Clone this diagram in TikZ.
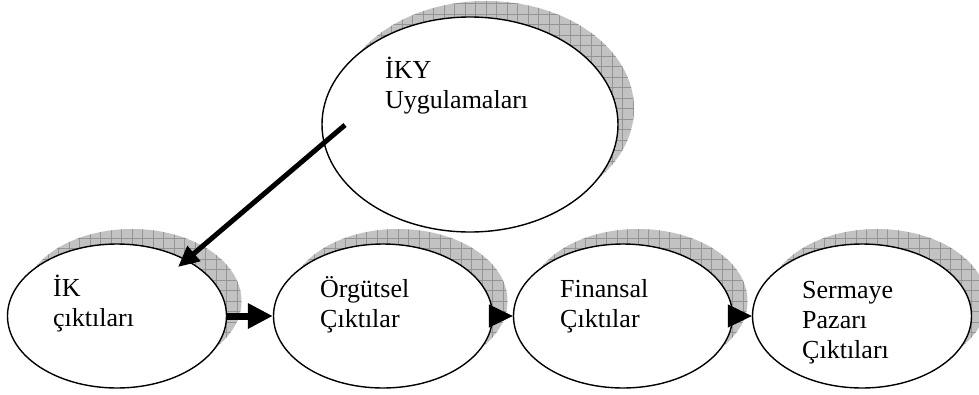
\documentclass[tikz,border=0pt]{standalone}
\usepackage{fontspec}
\setmainfont{Liberation Serif}
\usetikzlibrary{shapes.geometric,arrows.meta}

\tikzset{
  bubble/.style={ellipse, draw=black, line width=1.4pt, fill=white,
    inner sep=0pt, minimum width=219pt, minimum height=144pt},
  bigbubble/.style={bubble, minimum width=296pt, minimum height=215pt},
  hatchshadow/.style={ellipse, draw=none, fill=black!24, inner sep=0pt,
    path picture={\draw[black!42, line width=0.5pt]
      (path picture bounding box.south west) grid[step=10.5pt]
      (path picture bounding box.north east);}},
  label/.style={anchor=base west, inner sep=0pt,
    font=\fontsize{26}{30}\selectfont},
  flow/.style={line width=1pt, -{Triangle[length=24pt,width=23pt]}},
  thickflow/.style={line width=7pt, -{Triangle[length=25pt,width=24pt]}},
  feed/.style={line width=5pt, -{Triangle[length=21pt,width=19pt]}},
}

\newcommand{\ml}[1]{\begin{tabular}[t]{@{}l@{}}#1\end{tabular}}

\begin{document}
\begin{tikzpicture}[x=1pt,y=-1pt]
  \fill[white] (0,0) rectangle (979,394);
  \useasboundingbox (0,0) rectangle (979,394);

  % hatched drop shadows, offset up and to the right
  \node[hatchshadow, minimum width=296pt, minimum height=215pt] (iky-sh) at (486,108.5) {};
  \node[hatchshadow, minimum width=219pt, minimum height=144pt] (ik-sh)  at (132,301) {};
  \node[hatchshadow, minimum width=219pt, minimum height=144pt] (org-sh) at (398,301) {};
  \node[hatchshadow, minimum width=219pt, minimum height=144pt] (fin-sh) at (638,301) {};
  \node[hatchshadow, minimum width=219pt, minimum height=144pt] (ser-sh) at (877,301) {};

  % ellipses
  \node[bigbubble] (iky) at (470,124.5) {};
  \node[bubble] (ik)  at (117,316) {};
  \node[bubble] (org) at (383,316) {};
  \node[bubble] (fin) at (623,316) {};
  \node[bubble] (ser) at (862,316) {};

  % texts
  \node[label] (iky-t) at (385,78)  {\ml{İKY\\Uygulamaları}};
  \node[label] (ik-t)  at (53,296)  {\ml{İK\\çıktıları}};
  \node[label] (org-t) at (320,297) {\ml{Örgütsel\\Çıktılar}};
  \node[label] (fin-t) at (560,297) {\ml{Finansal\\Çıktılar}};
  \node[label] (ser-t) at (802,298) {\ml{Sermaye\\Pazarı\\Çıktıları}};

  % connectors
  \coordinate (feed-from) at (345,125);
  \coordinate (feed-to)   at (178,267);
  \draw[feed] (feed-from) -- (feed-to);
  \draw[thickflow] (ik.east) -- (org.west);
  \draw[flow] (org.east) -- (fin.west);
  \draw[flow] (fin.east) -- (ser.west);
\end{tikzpicture}
\end{document}
